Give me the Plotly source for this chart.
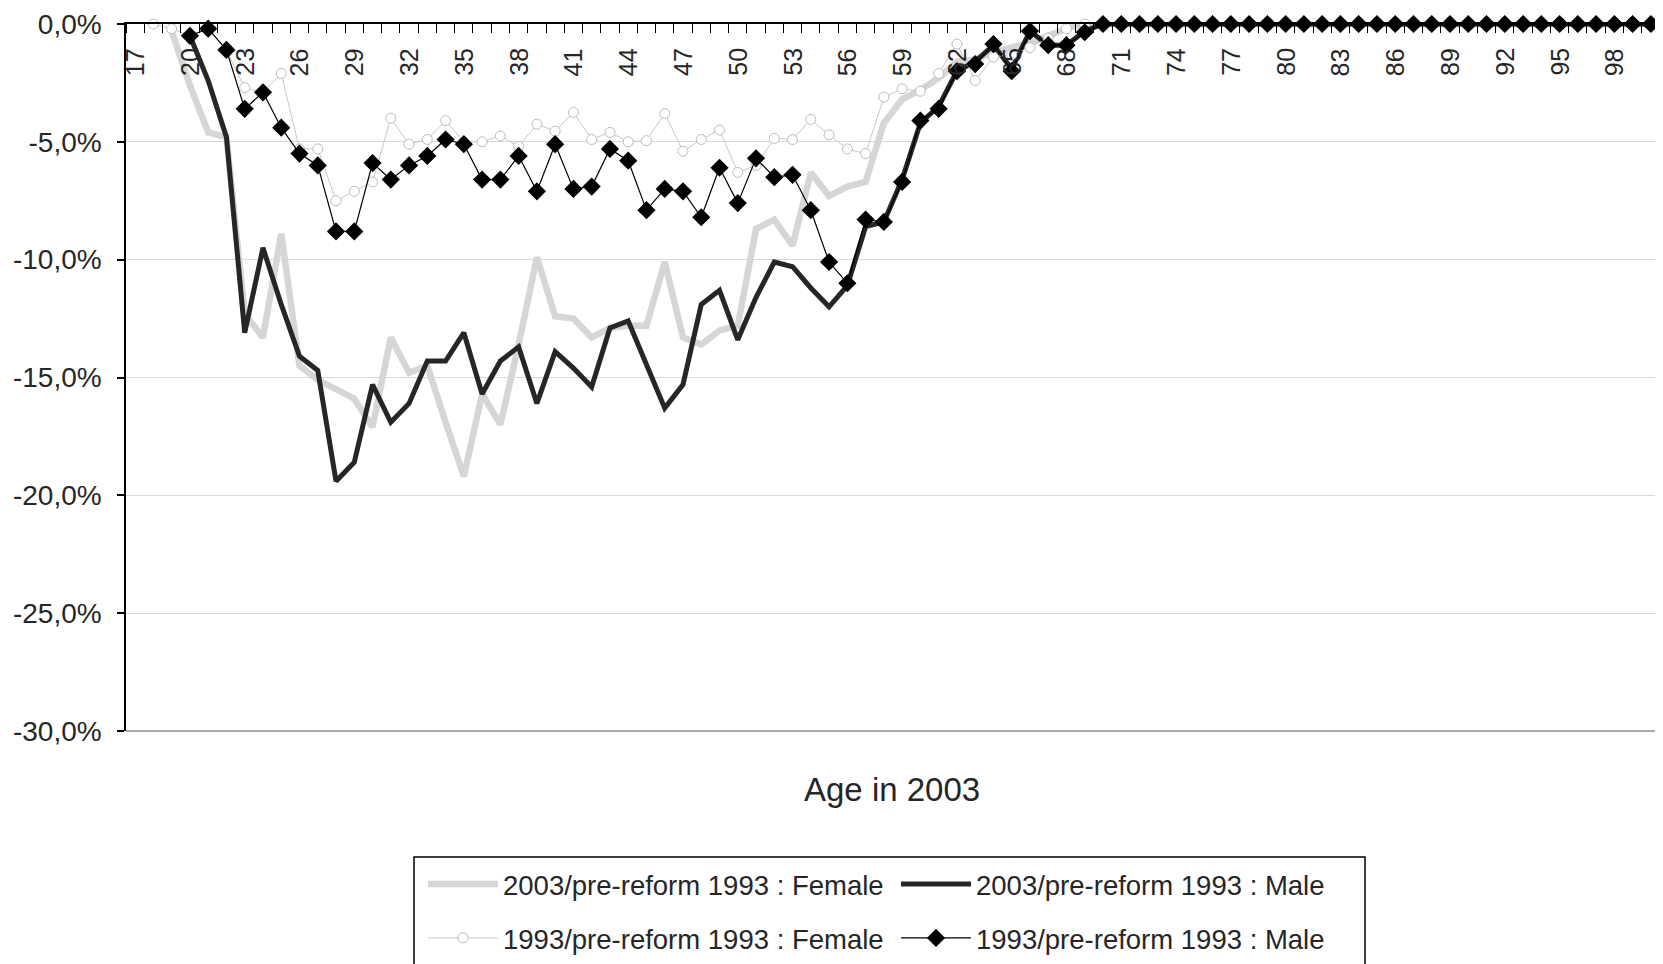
import plotly.graph_objects as go

ages = list(range(17, 101))

f2003 = [None, None, -0.3, -2.6, -4.6, -4.8, -12.3, -13.3, -8.9, -14.5,
         -15.1, -15.5, -15.9, -17.1, -13.3, -14.8, -14.5, -16.9, -19.2, -15.7,
         -17.0, -13.6, -9.9, -12.4, -12.5, -13.3, -12.9, -12.8, -12.8, -10.1,
         -13.3, -13.6, -13.0, -12.8, -8.7, -8.3, -9.4, -6.3, -7.3, -6.9,
         -6.7, -4.2, -3.2, -2.8, -2.3, -1.6, -1.5, -1.2, -1.0, -0.8,
         -0.5, -0.2, 0, 0, 0, 0, 0, 0, 0, 0,
         0, 0, 0, 0, 0, 0, 0, 0, 0, 0,
         0, 0, 0, 0, 0, 0, 0, 0, 0, 0,
         0, 0, 0, 0]

m2003 = [None, None, None, -0.5, -2.4, -4.8, -13.1, -9.5, -11.9, -14.1,
         -14.7, -19.4, -18.6, -15.3, -16.9, -16.1, -14.3, -14.3, -13.1, -15.7,
         -14.3, -13.7, -16.1, -13.9, -14.6, -15.4, -12.9, -12.6, -14.4, -16.3,
         -15.3, -11.9, -11.3, -13.4, -11.6, -10.1, -10.3, -11.2, -12.0, -11.1,
         -8.6, -8.4, -6.6, -4.2, -3.5, -2.0, -1.6, -0.9, -1.9, -0.3,
         -0.9, -0.9, -0.3, 0, 0, 0, 0, 0, 0, 0,
         0, 0, 0, 0, 0, 0, 0, 0, 0, 0,
         0, 0, 0, 0, 0, 0, 0, 0, 0, 0,
         0, 0, 0, 0]

f1993 = [None, 0.0, -0.2, -0.5, -0.2, -1.1, -2.7, -2.9, -2.1, -5.3,
         -5.3, -7.5, -7.1, -6.7, -4.0, -5.1, -4.9, -4.1, -5.0, -5.0,
         -4.75, -5.2, -4.25, -4.55, -3.75, -4.9, -4.6, -5.0, -4.95, -3.8,
         -5.4, -4.9, -4.5, -6.3, -6.0, -4.85, -4.9, -4.05, -4.7, -5.3,
         -5.5, -3.1, -2.75, -2.85, -2.1, -0.85, -2.4, -1.4, -1.3, -1.0,
         -0.6, -0.2, 0, 0, 0, 0, 0, 0, 0, 0,
         0, 0, 0, 0, 0, 0, 0, 0, 0, 0,
         0, 0, 0, 0, 0, 0, 0, 0, 0, 0,
         0, 0, 0, 0]

m1993 = [None, None, None, -0.5, -0.2, -1.1, -3.6, -2.9, -4.4, -5.5,
         -6.0, -8.8, -8.8, -5.9, -6.6, -6.0, -5.6, -4.9, -5.1, -6.6,
         -6.6, -5.6, -7.1, -5.1, -7.0, -6.9, -5.3, -5.8, -7.9, -7.0,
         -7.1, -8.2, -6.1, -7.6, -5.7, -6.5, -6.4, -7.9, -10.1, -11.0,
         -8.3, -8.4, -6.7, -4.1, -3.6, -2.0, -1.7, -0.85, -2.0, -0.3,
         -0.9, -0.9, -0.35, 0, 0, 0, 0, 0, 0, 0,
         0, 0, 0, 0, 0, 0, 0, 0, 0, 0,
         0, 0, 0, 0, 0, 0, 0, 0, 0, 0,
         0, 0, 0, 0]

names = ["2003/pre-reform 1993 : Female", "2003/pre-reform 1993 : Male",
         "1993/pre-reform 1993 : Female", "1993/pre-reform 1993 : Male"]

x_tick_ages = list(range(17, 101, 3))
x_tick_labels = [str(a) for a in x_tick_ages]
y_tick_vals = [0, -5, -10, -15, -20, -25, -30]
y_tick_labels = ["0,0%", "-5,0%", "-10,0%", "-15,0%", "-20,0%", "-25,0%", "-30,0%"]
x_title = "Age in 2003"

FONT = "Liberation Sans, Arial, sans-serif"
TXT = "#262626"

fig = go.Figure()
fig.add_trace(go.Scatter(x=ages, y=f2003, name=names[0], mode="lines",
                         line=dict(color="#d6d6d6", width=6.5), cliponaxis=False,
                         legend="legend"))
fig.add_trace(go.Scatter(x=ages, y=m2003, name=names[1], mode="lines",
                         line=dict(color="#262626", width=5), cliponaxis=False,
                         legend="legend"))
fig.add_trace(go.Scatter(x=ages, y=f1993, name=names[2], mode="lines+markers",
                         line=dict(color="#c8c8c8", width=1),
                         marker=dict(symbol="circle", size=10, color="white",
                                     line=dict(color="#bcbcbc", width=1)),
                         cliponaxis=False, legend="legend2"))
fig.add_trace(go.Scatter(x=ages, y=m1993, name=names[3], mode="lines+markers",
                         line=dict(color="black", width=1.2),
                         marker=dict(symbol="diamond", size=14, color="black"),
                         cliponaxis=False, legend="legend2"))

# page offset (body margin) compensation
OFF = 8
W, H = 1663, 964
L, T = 126 - OFF, 24 - OFF
pw, ph = 1534, 707
R = W - L - pw
B = H - T - ph

def px_x(p):  # page px -> paper x
    return (p - OFF - L) / pw

def px_y(p):  # page px -> paper y
    return (T + ph - (p - OFF)) / ph

leg_common = dict(orientation="h", xref="container", yref="container",
                  xanchor="left", yanchor="middle", itemwidth=70,
                  entrywidth=388, font=dict(size=27.5, color=TXT, family=FONT),
                  bgcolor="rgba(0,0,0,0)", borderwidth=0, tracegroupgap=0)

fig.update_layout(
    width=W, height=H,
    margin=dict(l=L, r=R, t=T, b=B, autoexpand=False),
    paper_bgcolor="white", plot_bgcolor="white",
    font=dict(family=FONT, color=TXT),
    xaxis=dict(
        range=[16.5, 100.5], side="top", tickmode="array",
        tickvals=x_tick_ages, ticktext=["" for _ in x_tick_ages],
        ticks="", showgrid=False, automargin=False,
        showline=True, linecolor="black", linewidth=1.5,
        minor=dict(tickmode="linear", tick0=16.5, dtick=1, ticks="inside",
                   ticklen=9, tickcolor="black", tickwidth=1.2, showgrid=False),
        zeroline=False,
    ),
    yaxis=dict(
        range=[-30, 0], tickmode="array", tickvals=y_tick_vals,
        ticktext=y_tick_labels, ticks="outside", ticklen=7, automargin=False,
        tickcolor="black", tickwidth=1.5, showline=True, linecolor="black",
        linewidth=1.5, showgrid=True, gridcolor="#d9d9d9", gridwidth=1.2,
        zeroline=False, tickfont=dict(size=28, color=TXT, family=FONT),
        ticklabelstandoff=10,
    ),
    legend=dict(x=415 / W, y=(H - (884 - OFF)) / H, **leg_common),
    legend2=dict(x=415 / W, y=(H - (938 - OFF)) / H, **leg_common),
    showlegend=True,
)

# x tick labels drawn inside the plot just below the top axis
for a, lab in zip(x_tick_ages, x_tick_labels):
    fig.add_annotation(text=lab, x=a, xref="x", y=1, yref="paper",
                       showarrow=False, textangle=-90, xanchor="center",
                       yanchor="top", yshift=-22,
                       font=dict(size=25, color=TXT, family=FONT))

# plot-area right/bottom border
fig.add_shape(type="line", xref="paper", yref="paper", x0=1, x1=1, y0=0, y1=1,
              line=dict(color="#8c8c8c", width=1.2))
fig.add_shape(type="line", xref="paper", yref="paper", x0=0, x1=1, y0=0, y1=0,
              line=dict(color="#555555", width=1.2))
# legend box
fig.add_shape(type="rect", xref="paper", yref="paper",
              x0=px_x(414), x1=px_x(1365), y0=px_y(995), y1=px_y(857),
              line=dict(color="black", width=1.5), fillcolor="rgba(0,0,0,0)",
              layer="above")

fig.add_annotation(text=x_title, xref="paper", yref="paper",
                   x=px_x(892), y=px_y(790), showarrow=False,
                   xanchor="center", yanchor="middle",
                   font=dict(size=33, color=TXT, family=FONT))

fig.write_html("out.html")
